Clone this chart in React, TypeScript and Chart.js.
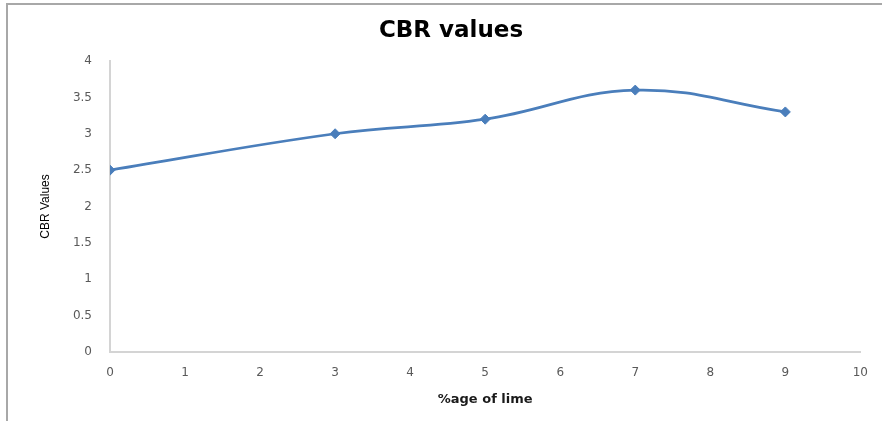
import React, { useEffect, useRef } from "react";
import { Chart, registerables } from "chart.js";

Chart.register(...registerables);

// Lime content (%) and measured CBR values
const limePercent = [0, 3, 5, 7, 9];
const cbrValues = [2.5, 3.0, 3.2, 3.6, 3.3];

const yTickValues = [0, 0.5, 1, 1.5, 2, 2.5, 3, 3.5, 4];
const xTickValues = [0, 1, 2, 3, 4, 5, 6, 7, 8, 9, 10];

const chartTitle = "CBR values";
const xAxisTitle = "%age of lime";
const yAxisTitle = "CBR Values";

const LINE_BLUE = "#4a7ebb";
const AXIS_GRAY = "#d4d4d4";
const TICK_GRAY = "#595959";

export default function App() {
  const canvasRef = useRef<HTMLCanvasElement | null>(null);

  useEffect(() => {
    const canvas = canvasRef.current;
    if (!canvas) return;

    const chart = new Chart(canvas, {
      type: "line",
      data: {
        datasets: [
          {
            label: yAxisTitle,
            data: limePercent.map((x, i) => ({ x, y: cbrValues[i] })),
            borderColor: LINE_BLUE,
            backgroundColor: LINE_BLUE,
            borderWidth: 2.75,
            tension: 0.4,
            pointStyle: "rectRot",
            pointRadius: 5,
            pointBorderWidth: 1,
            pointBackgroundColor: LINE_BLUE,
            pointBorderColor: LINE_BLUE,
            fill: false,
          },
        ],
      },
      options: {
        responsive: false,
        animation: false,
        devicePixelRatio: 1,
        layout: { padding: { left: 36, right: 16, top: 0, bottom: 0 } },
        plugins: {
          legend: { display: false },
          tooltip: { enabled: false },
          title: {
            display: true,
            text: chartTitle,
            color: "#000000",
            font: { family: "'DejaVu Sans', sans-serif", size: 23, weight: "bold", lineHeight: 1.2 },
            padding: { top: 17, bottom: 16.4 },
          },
        },
        scales: {
          x: {
            type: "linear",
            min: 0,
            max: 10,
            afterBuildTicks: (scale: any) => {
              scale.ticks = xTickValues.map((v) => ({ value: v }));
            },
            afterFit: (scale: any) => {
              scale.height = 69;
            },
            grid: { color: "rgba(0,0,0,0)", drawTicks: false },
            border: { display: true, color: AXIS_GRAY, width: 2 },
            ticks: {
              padding: 14,
              color: TICK_GRAY,
              font: { family: "'DejaVu Sans', sans-serif", size: 12 },
              maxRotation: 0,
              callback: (v: any) => String(v),
            },
            title: {
              display: true,
              text: xAxisTitle,
              color: "#1a1a1a",
              font: { family: "'DejaVu Sans', sans-serif", size: 13, weight: "bold", lineHeight: 1.2 },
              padding: { top: 0, bottom: 14 },
            },
          },
          y: {
            type: "linear",
            min: 0,
            max: 4,
            afterBuildTicks: (scale: any) => {
              scale.ticks = yTickValues.map((v) => ({ value: v }));
            },
            afterFit: (scale: any) => {
              scale.width = 74;
            },
            grid: { color: "rgba(0,0,0,0)", drawTicks: false },
            border: { display: true, color: AXIS_GRAY, width: 2 },
            ticks: {
              padding: 18,
              color: TICK_GRAY,
              font: { family: "'DejaVu Sans', sans-serif", size: 12 },
              callback: (v: any) => String(v),
            },
            title: {
              display: true,
              text: yAxisTitle,
              color: "#000000",
              font: { family: "'Liberation Sans', sans-serif", size: 12, lineHeight: 1.2 },
              padding: { top: 2, bottom: 0 },
            },
          },
        },
      },
    });

    return () => chart.destroy();
  }, []);

  return (
    <div
      style={{
        position: "fixed",
        left: 0,
        top: 0,
        width: 882,
        height: 421,
        background: "#ffffff",
        overflow: "hidden",
      }}
    >
      <div
        style={{
          position: "absolute",
          left: 6,
          top: 3,
          width: 1000,
          height: 600,
          borderLeft: "2px solid #a8a8a8",
          borderTop: "2px solid #a8a8a8",
        }}
      />
      <canvas
        ref={canvasRef}
        width={882}
        height={421}
        style={{ position: "absolute", left: 0, top: 0 }}
      />
    </div>
  );
}
